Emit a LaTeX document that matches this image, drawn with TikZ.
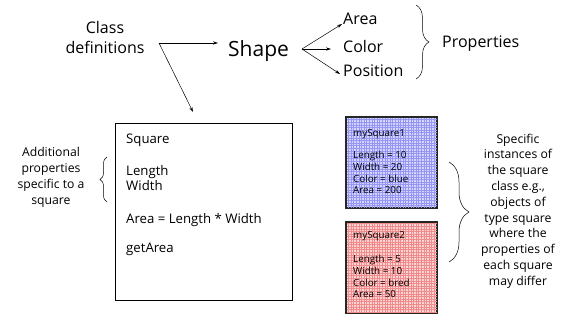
\documentclass[tikz,border=0pt]{standalone}
\usepackage{fontspec}
\setmainfont{Open Sans}
\usetikzlibrary{decorations.pathreplacing,arrows.meta}
\definecolor{bluefill}{RGB}{214,214,252}
\definecolor{bluegrid}{RGB}{150,150,245}
\definecolor{redfill}{RGB}{252,214,214}
\definecolor{redgrid}{RGB}{240,140,140}
\tikzset{
  big/.style={inner sep=0pt, font=\fontsize{16}{20}\selectfont},
  med/.style={inner sep=0pt, font=\fontsize{12.2}{15.8}\selectfont},
  boxtxt/.style={inner sep=0pt, font=\fontsize{13.2}{15.8}\selectfont},
  small/.style={inner sep=0pt, font=\fontsize{9.8}{11.7}\selectfont},
  arr/.style={-{Stealth[length=5pt,width=3.2pt]}, line width=0.5pt},
  bracestyle/.style={decorate, line width=0.5pt},
  instbox/.style={draw=black!85, line width=1.3pt, minimum width=90pt, minimum height=90pt, inner sep=0pt, anchor=north west},
}
\begin{document}
\begin{tikzpicture}[x=1pt,y=-1pt]
\useasboundingbox (0,0) rectangle (580,326);

% top part
\node[big, align=center, anchor=north] (cls) at (105,21) {Class\\definitions};
\coordinate (cd) at (159,43);
\node[inner sep=0pt, font=\fontsize{21}{24}\selectfont, anchor=base west] (shape) at (228,57) {Shape};
\coordinate (shapeL) at (218,43);
\draw[arr] (cd) -- (shapeL);
\coordinate (sq) at (193,112);
\draw[arr] (cd) -- (sq);

\node[big, anchor=base west] (area) at (343,25) {Area};
\node[big, anchor=base west] (color) at (343,53) {Color};
\node[big, anchor=base west] (pos) at (343,77) {Position};
\coordinate (sh) at (302,49);
\draw[arr] (sh) -- (342,24) coordinate (areaT);
\draw[arr] (sh) -- (331,49) coordinate (colorT);
\draw[arr] (sh) -- (340,74) coordinate (posT);

\coordinate (pb1) at (416,5);
\coordinate (pb2) at (416,79);
\draw[bracestyle, decoration={brace, amplitude=13pt}] (pb1) -- (pb2);
\node[big, anchor=base west] (props) at (442,48) {Properties};

% class box
\node[draw, line width=1.2pt, minimum width=177pt, minimum height=177pt, inner sep=0pt, anchor=north west] (box) at (115,123) {};
\node[boxtxt, anchor=base west] (t1) at (126,143) {Square};
\node[boxtxt, anchor=base west] (t2) at (126,175) {Length};
\node[boxtxt, anchor=base west] (t3) at (126,190) {Width};
\node[boxtxt, anchor=base west] (t4) at (126,223) {Area = Length * Width};
\node[boxtxt, anchor=base west] (t5) at (126,252) {getArea};

\node[med, align=center, anchor=north] (add) at (51,147.5) {Additional\\properties\\specific to a\\square};
\coordinate (ab1) at (107,202);
\coordinate (ab2) at (107,157);
\draw[bracestyle, decoration={brace, amplitude=7pt}] (ab1) -- (ab2);

% instances
\node[instbox, fill=bluefill] (inst1) at (346,117) {};
\begin{scope}
\clip (inst1.south west) rectangle (inst1.north east);
\draw[bluegrid, line width=0.4pt, step=2.6pt] (inst1.south west) grid (inst1.north east);
\end{scope}
\draw[black!85, line width=1.3pt] (inst1.south west) rectangle (inst1.north east);
\node[small, anchor=base west] (i1a) at (353,136) {mySquare1};
\node[small, anchor=base west] (i1b) at (353,158) {Length = 10};
\node[small, anchor=base west] (i1c) at (353,170) {Width = 20};
\node[small, anchor=base west] (i1d) at (353,182) {Color = blue};
\node[small, anchor=base west] (i1e) at (353,193.5) {Area = 200};

\node[instbox, fill=redfill] (inst2) at (346,222) {};
\begin{scope}
\clip (inst2.south west) rectangle (inst2.north east);
\draw[redgrid, line width=0.4pt, step=2.6pt] (inst2.south west) grid (inst2.north east);
\end{scope}
\draw[black!85, line width=1.3pt] (inst2.south west) rectangle (inst2.north east);
\node[small, anchor=base west] (i2a) at (353,238) {mySquare2};
\node[small, anchor=base west] (i2b) at (353,262) {Length = 5};
\node[small, anchor=base west] (i2c) at (353,274) {Width = 10};
\node[small, anchor=base west] (i2d) at (353,286) {Color = bred};
\node[small, anchor=base west] (i2e) at (353,297.5) {Area = 50};

\coordinate (rb1) at (449,162);
\coordinate (rb2) at (449,262);
\draw[bracestyle, decoration={brace, amplitude=20pt}] (rb1) -- (rb2);
\node[med, align=center, anchor=north] (spec) at (518,133.5) {Specific\\instances of\\the square\\class e.g.,\\objects of\\type square\\where the\\properties of\\each square\\may differ};
\end{tikzpicture}
\end{document}
